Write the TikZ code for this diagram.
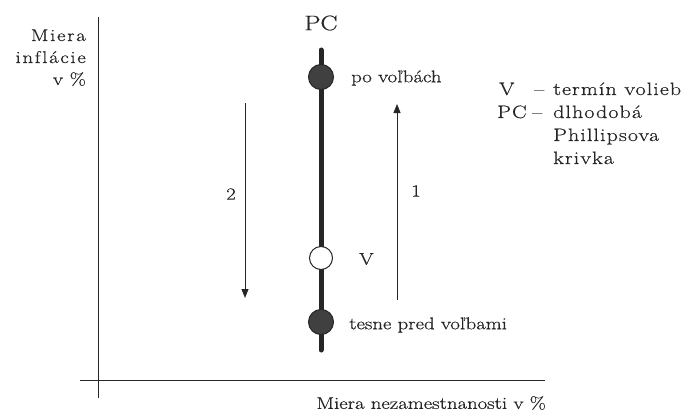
\documentclass[tikz,border=0pt]{standalone}
\usepackage{fontspec}
\setmainfont{Latin Modern Roman}[FakeStretch=1.22, FakeBold=0.6]
\usetikzlibrary{arrows.meta}
\newcommand\ls{\kern1.7pt\relax}
\begin{document}
\begin{tikzpicture}[x=1pt,y=-1pt,
  txt/.style={font=\fontsize{17}{21}\selectfont, text=black!85, inner sep=0pt},
  lgd/.style={txt, font=\fontsize{18}{22}\selectfont\addfontfeatures{LetterSpace=6}, anchor=base west},
  axis/.style={draw=black!85, line width=1pt},
  dot/.style={circle, draw=black!85, line width=1pt, minimum size=25pt, inner sep=0pt, fill=black!75},
  odot/.style={circle, draw=black!85, line width=1pt, minimum size=23pt, inner sep=0pt, fill=white},
  arr/.style={draw=black!85, line width=1pt, -{Triangle[length=9pt,width=7pt]}}]
\useasboundingbox (0,0) rectangle (685,412);
% axes
\coordinate (ytop) at (98,17);
\coordinate (ybot) at (98,398);
\coordinate (xl) at (80,380);
\coordinate (xr) at (545,380);
\draw[axis] (ytop) -- (ybot);
\draw[axis] (xl) -- (xr);
\node[txt, anchor=base east] (yl1) at (86,41) {M\ls i\ls e\ls r\ls a};
\node[txt, anchor=base east] (yl2) at (86,63) {i\ls n\ls f\ls l\ls á\ls c\ls i\ls e};
\node[txt, anchor=base east] (yl3) at (86,85) {v\ls\ls\ls\ls \%};
\node[txt, anchor=east] (xlab) at (546,403) {Miera nezamestnanosti v \%};
% PC line
\coordinate (pctop) at (321,50);
\coordinate (pcbot) at (321,350);
\draw[draw=black!85, line width=5pt, line cap=round] (pctop) -- (pcbot);
\node[txt, font=\fontsize{21}{24}\selectfont] (pclab) at (321,23) {PC};
\node[dot] (after) at (321,77) {};
\node[odot] (vdot) at (321,258) {};
\node[dot] (before) at (321,322) {};
\node[txt, anchor=west] (afterlab) at (351,78) {po voľbách};
\node[txt, anchor=west] (vlab) at (359,259) {V};
\node[txt, anchor=west] (beforelab) at (349,325) {tesne pred voľbami};
% arrows
\coordinate (a1s) at (397,300);
\coordinate (a1e) at (397,104);
\draw[arr] (a1s) -- (a1e);
\node[txt] (l1) at (416,191) {1};
\coordinate (a2s) at (245,103);
\coordinate (a2e) at (245,298);
\draw[arr] (a2s) -- (a2e);
\node[txt] (l2) at (231,194) {2};
% legend
\node[lgd] (lg1) at (499,95) {V};
\node[lgd] (lg1d) at (534,95) {–};
\node[lgd] (lg1b) at (553,95) {termín volieb};
\node[lgd] (lg2) at (497,118) {PC};
\node[lgd] (lg2d) at (532,118) {–};
\node[lgd] (lg2b) at (553,118) {dlhodobá};
\node[lgd] (lg3) at (553,141) {Phillipsova};
\node[lgd] (lg4) at (553,164) {krivka};
\end{tikzpicture}
\end{document}
